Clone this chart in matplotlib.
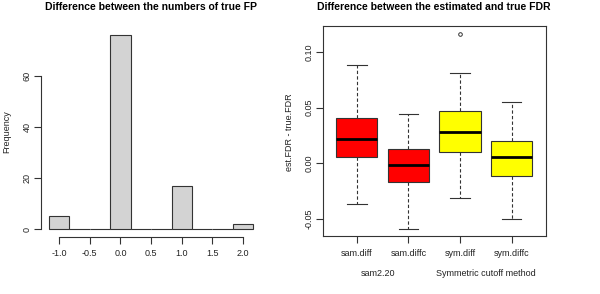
import numpy as np
import matplotlib
matplotlib.use('Agg')
import matplotlib.pyplot as plt

plt.rcParams['font.family'] = ['Liberation Sans', 'DejaVu Sans']

# histogram: bins of width 1/3 centred on the integers -1..2
bin_edges = np.arange(-7, 14) / 6.0
bin_edges = bin_edges[::2]
fp_counts = [5, 0, 0, 76, 0, 0, 17, 0, 0, 2]
hist_xticks = [-1.0, -0.5, 0.0, 0.5, 1.0, 1.5, 2.0]
hist_yticks = [0, 20, 40, 60]

# boxplot stats
methods = ['sam.diff', 'sam.diffc', 'sym.diff', 'sym.diffc']
box_colors = ['#FF0000', '#FF0000', '#FFFF00', '#FFFF00']
whislo = [-0.0363, -0.0588, -0.0315, -0.0501]
q1 = [0.0057, -0.0165, 0.0099, -0.0114]
med = [0.0221, -0.0018, 0.0279, 0.0054]
q3 = [0.0410, 0.0126, 0.0468, 0.0201]
whishi = [0.0881, 0.0441, 0.0815, 0.0549]
fliers = [[], [], [0.1166], []]
groups = ['sam2.20', 'Symmetric cutoff method']
box_yticks = [-0.05, 0.00, 0.05, 0.10]

line_col = '#333333'
fs = 6.5
tfs = 7.5

fig = plt.figure(figsize=(6, 2.94), dpi=100)

# ---- left: histogram
ax1 = fig.add_axes([40.6 / 600, 57 / 294, 221 / 600, 209.5 / 294])
widths = np.diff(bin_edges)
ax1.bar(bin_edges[:-1], fp_counts, width=widths, align='edge',
        color='#D3D3D3', edgecolor=line_col, linewidth=0.8)
ax1.set_xlim(bin_edges[0] - 0.04 * (bin_edges[-1] - bin_edges[0]),
             bin_edges[-1] + 0.04 * (bin_edges[-1] - bin_edges[0]))
ax1.set_ylim(-0.04 * max(fp_counts), 1.04 * max(fp_counts))
for s in ['top', 'right']:
    ax1.spines[s].set_visible(False)
ax1.spines['bottom'].set_bounds(hist_xticks[0], hist_xticks[-1])
ax1.spines['left'].set_bounds(hist_yticks[0], hist_yticks[-1])
for s in ['bottom', 'left']:
    ax1.spines[s].set_color(line_col)
    ax1.spines[s].set_linewidth(0.8)
ax1.set_xticks(hist_xticks)
ax1.set_xticklabels(['%.1f' % v for v in hist_xticks])
ax1.set_yticks(hist_yticks)
ax1.set_yticklabels([str(v) for v in hist_yticks], rotation=90, va='center')
ax1.tick_params(direction='out', length=5, width=0.8, color=line_col,
                labelsize=fs, labelcolor='#222222')
ax1.tick_params(axis='x', pad=4)
ax1.tick_params(axis='y', pad=1.5)
fig.text(151 / 600, 1 - 7.5 / 294, 'Difference between the numbers of true FP',
         ha='center', va='center', fontsize=tfs, fontweight='bold')
fig.text(7 / 600, 1 - 132 / 294, 'Frequency', rotation=90,
         ha='center', va='center', fontsize=fs, color='#222222')

# ---- right: boxplot
ax2 = fig.add_axes([322.7 / 600, 57.7 / 294, 223 / 600, 210.3 / 294])
stats = []
for i in range(len(methods)):
    stats.append(dict(label=methods[i], whislo=whislo[i], q1=q1[i], med=med[i],
                      q3=q3[i], whishi=whishi[i], fliers=fliers[i]))
pos = np.arange(1, len(methods) + 1)
bp = ax2.bxp(stats, positions=pos, widths=0.8, capwidths=0.38, patch_artist=True,
             boxprops=dict(edgecolor=line_col, linewidth=0.8),
             medianprops=dict(color='black', linewidth=2.0),
             whiskerprops=dict(color=line_col, linewidth=0.8, linestyle=(0, (3, 2))),
             capprops=dict(color=line_col, linewidth=0.8),
             flierprops=dict(marker='o', markersize=2.6, markerfacecolor='none',
                             markeredgecolor=line_col, markeredgewidth=0.7))
for patch, c in zip(bp['boxes'], box_colors):
    patch.set_facecolor(c)
lo = min(whislo)
hi = max(max(f) if f else -1 for f in fliers)
rng = hi - lo
ax2.set_xlim(0.5 - 0.04 * 4, len(methods) + 0.5 + 0.04 * 4)
ax2.set_ylim(lo - 0.04 * rng, hi + 0.04 * rng)
for s in ax2.spines.values():
    s.set_color(line_col)
    s.set_linewidth(0.8)
ax2.set_xticks(pos)
ax2.set_xticklabels(methods)
ax2.set_yticks(box_yticks)
ax2.set_yticklabels(['%.2f' % v for v in box_yticks], rotation=90, va='center')
ax2.tick_params(direction='out', length=5, width=0.8, color=line_col,
                labelsize=fs, labelcolor='#222222')
ax2.tick_params(axis='x', pad=4)
ax2.tick_params(axis='y', pad=1.5)
ax2.text(1.42, -0.175, groups[0], transform=ax2.get_xaxis_transform(),
         ha='center', va='center', fontsize=fs, color='#222222')
ax2.text(3.5, -0.175, groups[1], transform=ax2.get_xaxis_transform(),
         ha='center', va='center', fontsize=fs, color='#222222')
fig.text(434 / 600, 1 - 7.5 / 294, 'Difference between the estimated and true FDR',
         ha='center', va='center', fontsize=tfs, fontweight='bold')
fig.text(290 / 600, 1 - 132 / 294, 'est.FDR - true.FDR', rotation=90,
         ha='center', va='center', fontsize=fs, color='#222222')

fig.savefig('out.png', dpi=100, facecolor='w')
